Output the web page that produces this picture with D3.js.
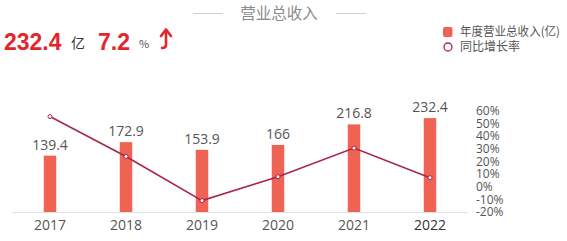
<!DOCTYPE html>
<html>
<head>
<meta charset="utf-8">
<script src="https://cdn.jsdelivr.net/npm/d3@7"></script>
<style>
  body { margin: 0; background: #fff; }
  svg { display: block; font-family: "Noto Sans CJK SC", "Open Sans", sans-serif; }
  .num { font-family: "Open Sans", "Noto Sans", sans-serif; }
</style>
</head>
<body>
<svg id="chart" width="567" height="241"></svg>
<script>
// chart data
const years = ['2017', '2018', '2019', '2020', '2021', '2022'];
const revenue = [139.4, 172.9, 153.9, 166, 216.8, 232.4];
const growth = [55.6, 24.0, -11.0, 7.9, 30.6, 7.2];
const pctTicks = [-20, -10, 0, 10, 20, 30, 40, 50, 60];

const svg = d3.select('#chart');
const barColor = '#ef6354';
const lineColor = '#a9254b';
const red = '#e4262b';

// scales
const x = d3.scaleBand().domain(years).range([12, 468]);
const yBar = d3.scaleLinear().domain([0, 250]).range([212, 111]);
const yPct = d3.scaleLinear().domain([-20, 60]).range([212, 111]);

// title with side rules
svg.append('text')
  .attr('x', 279).attr('y', 19)
  .attr('text-anchor', 'middle')
  .attr('font-size', 15.5)
  .attr('fill', '#8a8a8a')
  .text('营业总收入');
svg.append('line').attr('x1', 193).attr('x2', 223).attr('y1', 13.5).attr('y2', 13.5)
  .attr('stroke', '#cfcfcf');
svg.append('line').attr('x1', 336).attr('x2', 366).attr('y1', 13.5).attr('y2', 13.5)
  .attr('stroke', '#cfcfcf');

// headline numbers
const head = svg.append('g');
head.append('text').attr('x', 4).attr('y', 50)
  .attr('font-size', 23).attr('font-weight', 'bold').attr('fill', red)
  .attr('font-family', 'Liberation Sans, Arial, sans-serif')
  .text(revenue[revenue.length - 1]);
head.append('text').attr('x', 71).attr('y', 48)
  .attr('font-size', 14).attr('fill', '#333').text('亿');
head.append('text').attr('x', 98).attr('y', 50)
  .attr('font-size', 23).attr('font-weight', 'bold').attr('fill', red)
  .attr('font-family', 'Liberation Sans, Arial, sans-serif')
  .text(growth[growth.length - 1]);
head.append('text').attr('x', 139).attr('y', 48)
  .attr('font-size', 11).attr('fill', '#555').text('%');
// up arrow
head.append('path')
  .attr('d', 'M166,31 L166,45 Q166,48 162,48')
  .attr('fill', 'none').attr('stroke', red).attr('stroke-width', 2.6).attr('stroke-linecap', 'round');
head.append('path')
  .attr('d', 'M161,36 L166,29.5 L171,36')
  .attr('fill', 'none').attr('stroke', red).attr('stroke-width', 2.6)
  .attr('stroke-linecap', 'round').attr('stroke-linejoin', 'round');

// legend
const legend = svg.append('g').attr('font-size', 12).attr('fill', '#555');
legend.append('rect').attr('x', 443).attr('y', 27).attr('width', 9.5).attr('height', 10)
  .attr('rx', 2).attr('fill', barColor);
legend.append('text').attr('x', 460).attr('y', 32).attr('dy', '0.35em')
  .attr('textLength', 100).attr('lengthAdjust', 'spacingAndGlyphs')
  .text('年度营业总收入(亿)');
legend.append('circle').attr('cx', 448).attr('cy', 47).attr('r', 4)
  .attr('fill', '#fff').attr('stroke', lineColor).attr('stroke-width', 1.3);
legend.append('text').attr('x', 460).attr('y', 47).attr('dy', '0.35em').text('同比增长率');

// baseline
svg.append('line').attr('x1', 12).attr('x2', 468).attr('y1', 212.5).attr('y2', 212.5)
  .attr('stroke', '#e3e3e3');

// bars
const barW = 12.5;
svg.append('g').selectAll('rect')
  .data(revenue)
  .join('rect')
  .attr('x', (d, i) => x(years[i]) + x.bandwidth() / 2 - barW / 2)
  .attr('y', d => yBar(d))
  .attr('width', barW)
  .attr('height', d => yBar(0) - yBar(d))
  .attr('fill', barColor);

// value labels
svg.append('g').selectAll('text')
  .data(revenue)
  .join('text')
  .attr('class', 'num')
  .attr('x', (d, i) => x(years[i]) + x.bandwidth() / 2)
  .attr('y', d => yBar(d) - 6)
  .attr('text-anchor', 'middle')
  .attr('font-size', 14)
  .attr('fill', '#555')
  .text(d => d);

// year labels
svg.append('g').selectAll('text')
  .data(years)
  .join('text')
  .attr('class', 'num')
  .attr('x', d => x(d) + x.bandwidth() / 2)
  .attr('y', 225)
  .attr('dy', '0.35em')
  .attr('text-anchor', 'middle')
  .attr('font-size', 14)
  .attr('fill', (d, i) => i === years.length - 1 ? '#333' : '#555')
  .text(d => d);

// right percent axis
svg.append('g').selectAll('text')
  .data(pctTicks)
  .join('text')
  .attr('class', 'num')
  .attr('x', 476)
  .attr('y', d => yPct(d))
  .attr('dy', '0.35em')
  .attr('font-size', 12)
  .attr('fill', '#555')
  .text(d => d + '%');

// growth line
const line = d3.line()
  .x((d, i) => x(years[i]) + x.bandwidth() / 2)
  .y(d => yPct(d));
svg.append('path')
  .datum(growth)
  .attr('d', line)
  .attr('fill', 'none')
  .attr('stroke', lineColor)
  .attr('stroke-width', 1.6);
svg.append('g').selectAll('circle')
  .data(growth)
  .join('circle')
  .attr('cx', (d, i) => x(years[i]) + x.bandwidth() / 2)
  .attr('cy', d => yPct(d))
  .attr('r', 2)
  .attr('fill', '#fff')
  .attr('stroke', lineColor)
  .attr('stroke-width', 1);
</script>
</body>
</html>
